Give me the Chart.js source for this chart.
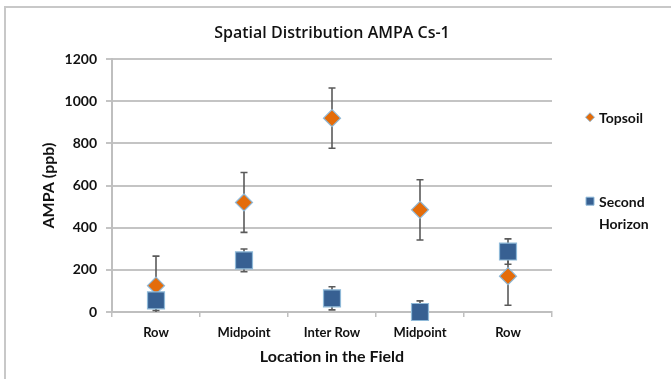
<!DOCTYPE html>
<html>
<head>
<meta charset="utf-8">
<script src="https://cdn.jsdelivr.net/npm/chart.js@4.4.0/dist/chart.umd.min.js"></script>
<style>
  html, body { margin: 0; padding: 0; background: #fff; overflow: hidden; }
  #frame { position: absolute; left: 4px; top: 6px; width: 720px; height: 420px;
           border-top: 2px solid #c8c8c8; border-left: 2px solid #c8c8c8; }
  #wrap { position: absolute; left: 0; top: 0; width: 671px; height: 379px; }
</style>
</head>
<body>
<div id="frame"></div>
<div id="wrap"><canvas id="chart" width="671" height="379"></canvas></div>
<script>
// values
const locations = ['Row', 'Midpoint', 'Inter Row', 'Midpoint', 'Row'];
const topsoil = [125, 520, 920, 485, 170];
const topsoilErr = [140, 142, 143, 143, 138];
const secondHorizon = [55, 245, 65, 0, 287];
const secondHorizonErr = [48, 54, 55, 53, 60];
const yTicks = [0, 200, 400, 600, 800, 1000, 1200];

const FONT = 'Lato, "Open Sans", sans-serif';
const ORANGE = '#e46c0a';
const BLUE = '#376092';
const EDGE = '#8fb9d8';

// error bars under the markers, clipped to the plot
const errorBars = {
  id: 'errorBars',
  beforeDatasetsDraw(chart) {
    const ctx = chart.ctx;
    const y = chart.scales.y;
    const area = chart.chartArea;
    ctx.save();
    ctx.beginPath();
    ctx.rect(area.left, area.top - 20, area.right - area.left, area.bottom - area.top + 20);
    ctx.clip();
    ctx.strokeStyle = '#5a5a5a';
    ctx.lineWidth = 1.6;
    chart.data.datasets.forEach((ds, di) => {
      const meta = chart.getDatasetMeta(di);
      ds.errors.forEach((e, i) => {
        const pt = meta.data[i];
        const top = y.getPixelForValue(ds.data[i] + e);
        const bot = y.getPixelForValue(ds.data[i] - e);
        ctx.beginPath();
        ctx.moveTo(pt.x, top); ctx.lineTo(pt.x, bot);
        ctx.moveTo(pt.x - 3.5, top); ctx.lineTo(pt.x + 3.5, top);
        ctx.moveTo(pt.x - 3.5, bot); ctx.lineTo(pt.x + 3.5, bot);
        ctx.stroke();
      });
    });
    ctx.restore();
  }
};

// legend on the right, with the wrapped second label
const sideLegend = {
  id: 'sideLegend',
  afterDraw(chart) {
    const ctx = chart.ctx;
    const area = chart.chartArea;
    const x = area.right + 38;
    ctx.save();
    ctx.font = 'bold 14px ' + FONT;
    ctx.textBaseline = 'middle';
    ctx.textAlign = 'left';
    chart.data.datasets.forEach((ds) => {
      const yy = area.top + ds.legendOffset;
      ctx.fillStyle = ds.backgroundColor;
      ctx.strokeStyle = EDGE;
      ctx.lineWidth = 1;
      ctx.beginPath();
      if (ds.pointStyle === 'rectRot') {
        ctx.moveTo(x, yy - 4.5); ctx.lineTo(x + 4.5, yy);
        ctx.lineTo(x, yy + 4.5); ctx.lineTo(x - 4.5, yy); ctx.closePath();
      } else {
        ctx.rect(x - 4, yy - 4, 8, 8);
      }
      ctx.fill(); ctx.stroke();
      ctx.fillStyle = '#111';
      ds.legendLines.forEach((t, k) => ctx.fillText(t, x + 9, yy + 1 + k * 22));
    });
    ctx.restore();
  }
};

new Chart(document.getElementById('chart'), {
  type: 'line',
  data: {
    labels: locations,
    datasets: [
      {
        label: 'Topsoil',
        data: topsoil,
        errors: topsoilErr,
        legendLines: ['Topsoil'],
        legendOffset: 58,
        showLine: false,
        clip: false,
        pointStyle: 'rectRot',
        pointRadius: 8.5,
        backgroundColor: ORANGE,
        borderColor: EDGE,
        pointBorderWidth: 1.2,
        order: 2
      },
      {
        label: 'Second Horizon',
        data: secondHorizon,
        errors: secondHorizonErr,
        legendLines: ['Second', 'Horizon'],
        legendOffset: 142,
        showLine: false,
        clip: false,
        pointStyle: 'rect',
        pointRadius: 12,
        backgroundColor: BLUE,
        borderColor: EDGE,
        pointBorderWidth: 1.2,
        order: 1
      }
    ]
  },
  options: {
    responsive: false,
    animation: false,
    layout: { padding: { left: 0, right: 119, top: 0, bottom: 0 } },
    plugins: {
      legend: { display: false },
      tooltip: { enabled: false },
      title: {
        display: true,
        fullSize: false,
        text: 'Spatial Distribution AMPA Cs-1',
        color: '#111',
        font: { family: '"Open Sans", Lato, sans-serif', size: 16, weight: '600' },
        padding: { top: 24, bottom: 16 }
      }
    },
    scales: {
      x: {
        type: 'category',
        offset: true,
        afterFit(s) { s.height = 67; },
        grid: { display: true, offset: true, drawOnChartArea: false, color: '#bfbfbf', lineWidth: 1.5, tickLength: 5 },
        border: { color: '#bfbfbf', width: 2 },
        ticks: { color: '#111', padding: 8, font: { family: FONT, size: 13, weight: 'bold' } },
        title: {
          display: true,
          text: 'Location in the Field',
          color: '#111',
          font: { family: FONT, size: 16, weight: 'bold' },
          padding: { top: 0, bottom: 13 }
        }
      },
      y: {
        min: 0,
        max: 1200,
        afterFit(s) { s.width = 112; },
        afterBuildTicks(s) { s.ticks = yTicks.map(v => ({ value: v })); },
        grid: { color: '#c4c4c4', lineWidth: 2, tickLength: 6 },
        border: { color: '#bfbfbf', width: 2 },
        ticks: {
          color: '#111', padding: 9,
          font: { family: FONT, size: 14, weight: 'bold' },
          callback: (v) => String(v)
        },
        title: {
          display: true,
          text: 'AMPA (ppb)',
          color: '#111',
          font: { family: FONT, size: 16, weight: 'bold' },
          padding: { top: 39, bottom: 0 }
        }
      }
    }
  },
  plugins: [errorBars, sideLegend]
});
</script>
</body>
</html>
